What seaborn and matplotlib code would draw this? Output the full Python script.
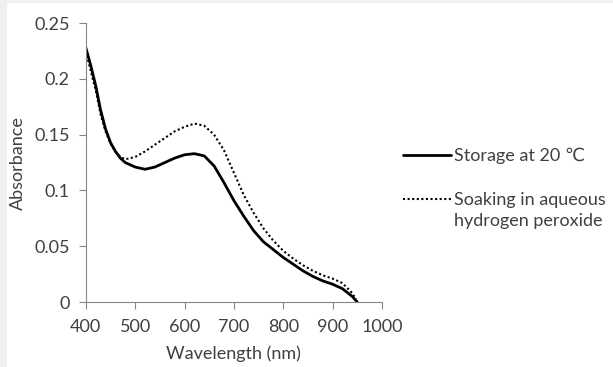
import matplotlib
matplotlib.use("Agg")
import matplotlib.pyplot as plt
import pandas as pd
import seaborn as sns
from matplotlib.lines import Line2D
from matplotlib.patches import Rectangle

# absorbance spectra
wavelength = [400, 410, 420, 430, 440, 450, 460, 470, 480, 500, 520, 540, 560,
              580, 600, 620, 640, 660, 680, 700, 720, 740, 760, 780, 800, 820,
              840, 860, 880, 900, 920, 940, 950]
storage_20c = [0.228, 0.212, 0.194, 0.172, 0.155, 0.143, 0.135, 0.129, 0.125,
               0.121, 0.119, 0.121, 0.125, 0.129, 0.132, 0.133, 0.131, 0.122,
               0.107, 0.091, 0.077, 0.064, 0.054, 0.047, 0.040, 0.034, 0.028,
               0.023, 0.019, 0.016, 0.012, 0.005, 0.0]
soaking_h2o2 = [0.225, 0.207, 0.190, 0.168, 0.153, 0.142, 0.135, 0.130, 0.128,
                0.130, 0.135, 0.141, 0.147, 0.153, 0.157, 0.160, 0.158, 0.150,
                0.136, 0.116, 0.096, 0.080, 0.066, 0.055, 0.046, 0.039, 0.033,
                0.028, 0.024, 0.021, 0.017, 0.008, 0.0]

x_ticks = [400, 500, 600, 700, 800, 900, 1000]
y_ticks = [0, 0.05, 0.1, 0.15, 0.2, 0.25]
y_labels = ["0", "0.05", "0.1", "0.15", "0.2", "0.25"]
series_labels = ["Storage at 20 \u2103", "Soaking in aqueous"]
second_line = "hydrogen peroxide"

sns.set_style("white")
plt.rcParams["font.family"] = ["Lato", "DejaVu Sans"]

text_color = "#404040"
axis_color = "#868686"
fs = 13

fig = plt.figure(figsize=(6.13, 3.67), dpi=100)
fig.patch.set_facecolor("white")
# light page edge on the left and top
fig.patches.append(Rectangle((0, 0), 6 / 613, 1, transform=fig.transFigure,
                             color="#eff0f2", zorder=0))
fig.patches.append(Rectangle((0, 1 - 2 / 367), 1, 2 / 367,
                             transform=fig.transFigure, color="#eff0f2",
                             zorder=0))
ax = fig.add_axes([0.140, 0.177, 0.483, 0.760])

df = pd.DataFrame({"wavelength": wavelength,
                   "storage": storage_20c,
                   "soaking": soaking_h2o2})

sns.lineplot(data=df, x="wavelength", y="storage", ax=ax, color="black",
             linewidth=2.0)
sns.lineplot(data=df, x="wavelength", y="soaking", ax=ax, color="black",
             linewidth=1.5, linestyle=(0, (1, 1.2)))

ax.set_xlim(400, 1000)
ax.set_ylim(0, 0.25)
ax.set_xticks(x_ticks)
ax.set_yticks(y_ticks)
ax.set_yticklabels(y_labels)
ax.set_xlabel("Wavelength (nm)", fontsize=fs, color=text_color, labelpad=8)
ax.set_ylabel("Absorbance", fontsize=fs, color=text_color, labelpad=6)
ax.tick_params(axis="both", labelsize=fs, labelcolor=text_color,
               color=axis_color, length=5, width=0.8, direction="out",
               left=True, bottom=True)
ax.tick_params(axis="x", pad=7)
ax.tick_params(axis="y", pad=6.5)

sns.despine(ax=ax)
for side in ["left", "bottom"]:
    ax.spines[side].set_color(axis_color)
    ax.spines[side].set_linewidth(0.8)

handles = [Line2D([], [], color="black", linewidth=2.0),
           Line2D([], [], color="black", linewidth=1.5, linestyle=(0, (1, 1.2)))]
leg = fig.legend(handles, series_labels, loc="upper left",
                 bbox_to_anchor=(0.646, 0.617), frameon=False,
                 fontsize=fs, handlelength=2.65, handletextpad=0.15,
                 labelspacing=1.55, labelcolor=text_color, borderaxespad=0)

# second line of the lower legend label, placed under its first line
fig.canvas.draw()
bb = leg.get_texts()[1].get_window_extent()
x0, y0 = fig.transFigure.inverted().transform((bb.x0, bb.y0))
fig.text(x0, y0 - 5 / 367, second_line, fontsize=fs, color=text_color,
         ha="left", va="top")

fig.savefig("out.png", dpi=100)
plt.close(fig)
